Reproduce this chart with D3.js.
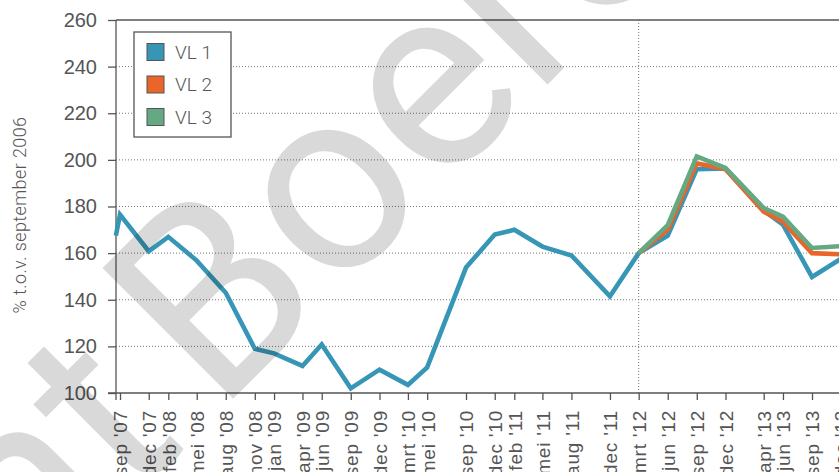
<!DOCTYPE html>
<html>
<head>
<meta charset="utf-8">
<script src="https://cdn.jsdelivr.net/npm/d3@7"></script>
<style>
    body { margin: 0; background: #fff; overflow: hidden; }
    svg { display: block; font-family: Roboto, "Noto Sans", sans-serif; }
</style>
</head>
<body>
<svg id="chart" width="839" height="472"></svg>
<script>
// data
const dates = ['2007-08-19', '2007-09-01', '2007-12-01', '2008-02-01', '2008-05-01', '2008-08-01',
    '2008-11-01', '2009-01-01', '2009-04-01', '2009-06-01', '2009-09-01', '2009-12-01',
    '2010-03-01', '2010-05-01', '2010-09-01', '2010-12-01', '2011-02-01', '2011-05-01',
    '2011-08-01', '2011-12-01', '2012-03-01', '2012-06-01', '2012-09-01', '2012-12-01',
    '2013-04-01', '2013-06-01', '2013-09-01', '2013-12-01'];
const tickLabels = ["", "sep '07", "dec '07", "feb '08", "mei '08", "aug '08", "nov '08", "jan '09",
    "apr '09", "jun '09", "sep '09", "dec '09", "mrt '10", "mei '10", "sep '10", "dec '10",
    "feb '11", "mei '11", "aug '11", "dec '11", "mrt '12", "jun '12", "sep '12", "dec '12",
    "apr '13", "jun '13", "sep '13", "dec '13"];
const vl1 = [167.5, 176.5, 160.8, 167, 156.8, 143, 119, 117, 111.6, 120.8, 102, 110, 103.5, 111,
    153.8, 168, 170, 162.8, 159, 141.5, 160, 167.5, 196, 196.3, 178.3, 172.2, 149.8, 157.5];
const vl2 = [null, null, null, null, null, null, null, null, null, null, null, null, null, null,
    null, null, null, null, null, null, 160, 170, 198.5, 196, 177.8, 173.5, 160, 159.5];
const vl3 = [null, null, null, null, null, null, null, null, null, null, null, null, null, null,
    null, null, null, null, null, null, 160, 172, 201.5, 196.5, 179.3, 175.6, 162.2, 163];
const seriesNames = ['VL 1', 'VL 2', 'VL 3'];
const seriesColors = ['#3796b6', '#e9652a', '#65a982'];
const yTicks = [100, 120, 140, 160, 180, 200, 220, 240, 260];
const gridTicks = [120, 140, 160, 180, 200, 220, 240];
const markerDate = '2012-03-01';

const parse = d3.timeParse('%Y-%m-%d');
const dateObjs = dates.map(parse);

const svg = d3.select('#chart');
const plot = { left: 116, top: 20, bottom: 393, right: 900 };

const x = d3.scaleTime()
    .domain([parse('2007-09-01'), parse('2013-09-01')])
    .range([120, 812]);
const y = d3.scaleLinear().domain([100, 260]).range([plot.bottom, plot.top]);

// dotted grid
svg.append('g')
    .selectAll('line')
    .data(gridTicks)
    .enter()
    .append('line')
    .attr('x1', plot.left).attr('x2', plot.right)
    .attr('y1', d => y(d)).attr('y2', d => y(d))
    .attr('stroke', '#777')
    .attr('stroke-width', 1)
    .attr('stroke-dasharray', '1,2');

// vertical marker
svg.append('line')
    .attr('x1', x(parse(markerDate))).attr('x2', x(parse(markerDate)))
    .attr('y1', plot.top).attr('y2', plot.bottom)
    .attr('stroke', '#777')
    .attr('stroke-dasharray', '1,2');

// top frame
svg.append('line')
    .attr('x1', plot.left).attr('x2', plot.right)
    .attr('y1', plot.top).attr('y2', plot.top)
    .attr('stroke', '#555').attr('stroke-width', 1.3);

// y axis
const yAxis = svg.append('g')
    .attr('transform', `translate(${plot.left},0)`)
    .call(d3.axisLeft(y).tickValues(yTicks).tickSize(8).tickPadding(11));
yAxis.select('.domain').remove();
yAxis.selectAll('line').attr('stroke', '#555').attr('stroke-width', 1.3);
yAxis.selectAll('text')
    .attr('fill', '#555')
    .style('font-size', '20px')
    .style('font-weight', 300);
svg.append('line')
    .attr('x1', plot.left).attr('x2', plot.left)
    .attr('y1', plot.top).attr('y2', plot.bottom + 7)
    .attr('stroke', '#555').attr('stroke-width', 1.3);

// x axis
const xAxis = svg.append('g')
    .attr('transform', `translate(0,${plot.bottom})`)
    .call(d3.axisBottom(x)
        .tickValues(dateObjs.slice(1))
        .tickSize(7)
        .tickFormat((d, i) => tickLabels[i + 1]));
xAxis.select('.domain').remove();
xAxis.selectAll('line').attr('stroke', '#555').attr('stroke-width', 1.3);
xAxis.selectAll('text')
    .attr('fill', '#555')
    .attr('transform', 'rotate(-90)')
    .attr('x', -17)
    .attr('y', 0)
    .attr('dy', '0.36em')
    .style('text-anchor', 'end')
    .style('font-size', '19px')
    .style('font-weight', 300)
    .style('letter-spacing', '0.8px');
svg.append('line')
    .attr('x1', plot.left - 8).attr('x2', plot.right)
    .attr('y1', plot.bottom).attr('y2', plot.bottom)
    .attr('stroke', '#555').attr('stroke-width', 1.3);

// y title
svg.append('text')
    .attr('transform', 'translate(26,215) rotate(-90)')
    .attr('text-anchor', 'middle')
    .attr('fill', '#555')
    .style('font-size', '18px')
    .style('font-weight', 300)
    .style('letter-spacing', '0.4px')
    .text('% t.o.v. september 2006');

// lines
const line = d3.line()
    .defined(d => d[1] !== null)
    .x(d => x(d[0]))
    .y(d => y(d[1]));

[vl1, vl2, vl3].forEach((vals, i) => {
    svg.append('path')
        .datum(vals.map((v, j) => [dateObjs[j], v]))
        .attr('fill', 'none')
        .attr('stroke', seriesColors[i])
        .attr('stroke-width', 4.6)
        .attr('stroke-linejoin', 'miter')
        .attr('d', line);
});

// legend
const legend = svg.append('g').attr('transform', 'translate(134,32)');
legend.append('rect')
    .attr('width', 97).attr('height', 105)
    .attr('fill', '#fff')
    .attr('stroke', '#555').attr('stroke-width', 1.3);
seriesNames.forEach((name, i) => {
    const row = legend.append('g').attr('transform', `translate(13,${20 + i * 32.5})`);
    row.append('rect')
        .attr('x', 0).attr('y', -8.5)
        .attr('width', 17).attr('height', 17)
        .attr('fill', seriesColors[i])
        .attr('stroke', '#555').attr('stroke-width', 1);
    row.append('text')
        .attr('x', 28).attr('dy', '0.36em')
        .attr('fill', '#555')
        .style('font-size', '19px')
        .style('font-weight', 300)
        .text(name);
});

// watermark
const wm = svg.append('g')
    .attr('transform', 'translate(218,414) rotate(-45)')
    .attr('fill', '#000')
    .attr('fill-opacity', 0.15)
    .style('font-size', '260px')
    .style('font-weight', 400);
wm.append('text').attr('text-anchor', 'end').attr('x', -40).text('Copyright');
wm.append('text').attr('text-anchor', 'start').attr('x', 0).text('Boerenbusiness');
</script>
</body>
</html>
